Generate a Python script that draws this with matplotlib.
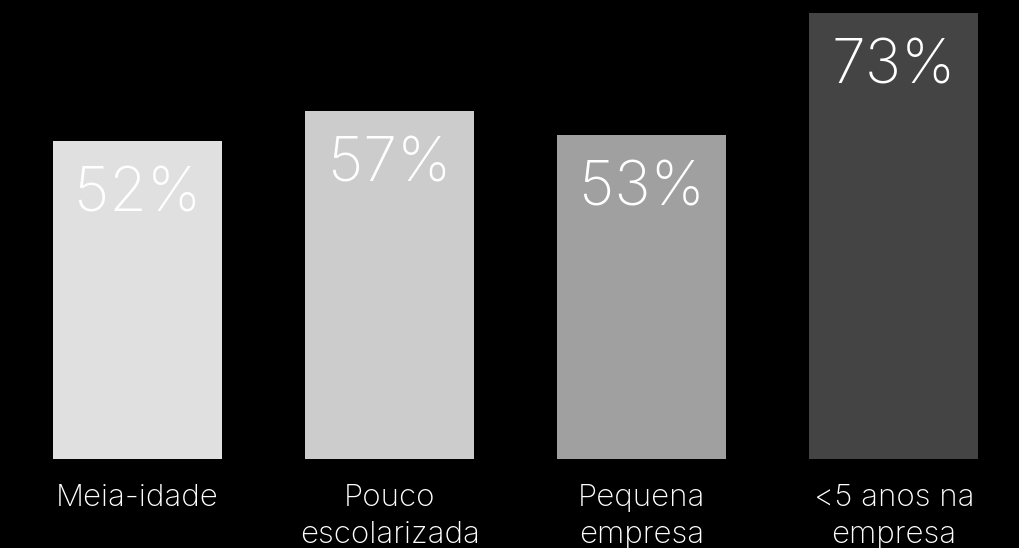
import matplotlib
matplotlib.use("Agg")
import matplotlib.pyplot as plt
from matplotlib import font_manager
import os

categories = ["Meia-idade", "Pouco\nescolarizada", "Pequena\nempresa", "<5 anos na\nempresa"]
values = [52, 57, 53, 73]
colors = ["#e0e0e0", "#cccccc", "#a0a0a0", "#444444"]

def find_font(fname):
    for f in font_manager.fontManager.ttflist:
        if os.path.basename(f.fname) == fname:
            return f.fname
    return None

path = find_font("Inter-ExtraLight.otf") or find_font("Inter-Light.otf")

def fp(size):
    if path:
        return font_manager.FontProperties(fname=path, size=size)
    return font_manager.FontProperties(family="DejaVu Sans", size=size)

W, H = 1020, 548
fig = plt.figure(figsize=(W / 100, H / 100), dpi=100, facecolor="black")
ax = fig.add_axes([0, 89 / H, 1, 458 / H])
ax.set_facecolor("black")
x = list(range(len(categories)))
ax.bar(x, values, width=0.67, color=colors)
ax.set_xlim(-0.545, 3.5)
ax.set_ylim(0, 75)
ax.axis("off")

for xi, v in zip(x, values):
    ax.annotate(f"{v}%", (xi, v), xytext=(0, -39), textcoords="offset points",
                ha="center", va="center", color="white", fontproperties=fp(44))

for xi, c in zip(x, categories):
    ax.annotate(c, (xi, 0), xytext=(0, -18), textcoords="offset points",
                ha="center", va="top", color="white", fontproperties=fp(22.5),
                linespacing=1.4, annotation_clip=False)

fig.savefig("out.png", dpi=100, facecolor="black")
